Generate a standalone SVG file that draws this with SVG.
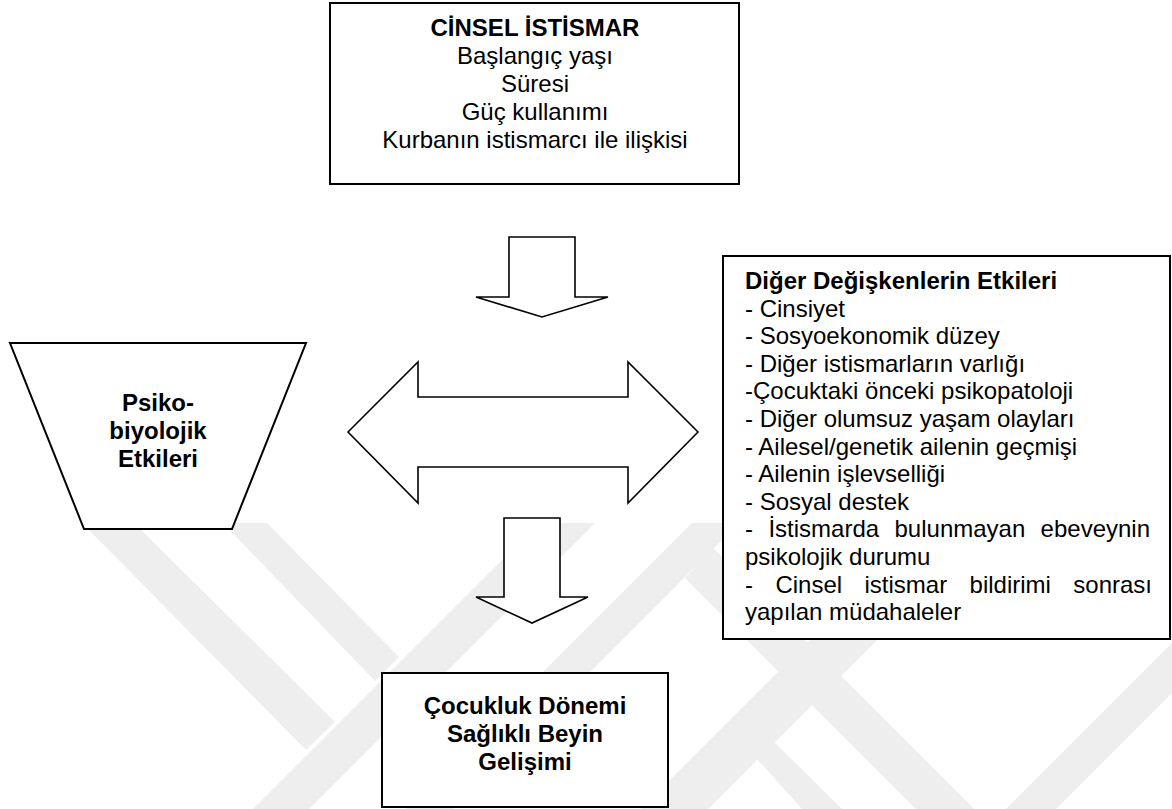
<svg xmlns="http://www.w3.org/2000/svg" width="1172" height="809" viewBox="0 0 1172 809">
<style>
.bg{fill:#ffffff}
.wm{fill:#eeeeee}
.box{fill:#ffffff;stroke:#000000;stroke-width:2}
.arr{fill:#ffffff;stroke:#000000;stroke-width:1.6;stroke-linejoin:miter}
text{font-family:"Liberation Sans",Arial,Helvetica,sans-serif;font-size:24px;fill:#000000}
.b{font-weight:bold}
.c{text-anchor:middle}
</style>
<rect class="bg" x="0" y="0" width="1172" height="809"/>
<g id="watermark">
<polygon class="wm" points="82,523 134,523 335,722 306,750"/>
<polygon class="wm" points="223,523 267,523 399,657 375,681"/>
<polygon class="wm" points="539,523 595,523 309,809 253,809"/>
<polygon class="wm" points="692,523 739,523 453,809 406,809"/>
<polygon class="wm" points="883,567 950,567 708,809 641,809"/>
<polygon class="wm" points="685,578 713,548 974,809 916,809"/>
<polygon class="wm" points="742,742 760,728 842,809 802,809"/>
<polygon class="wm" points="1172,643 1172,693 1056,809 1006,809"/>
</g>
<g id="node-cinsel-istismar">
<rect class="box" x="330" y="3" width="409" height="181"/>
<text class="b c" x="535" y="36">CİNSEL İSTİSMAR</text>
<text class="c" x="535" y="64">Başlangıç yaşı</text>
<text class="c" x="535" y="92">Süresi</text>
<text class="c" x="535" y="120">Güç kullanımı</text>
<text class="c" x="535" y="148">Kurbanın istismarcı ile ilişkisi</text>
</g>
<g id="node-psikobiyolojik">
<polygon class="box" points="10,343 306,343 232,529 84,529"/>
<text class="b c" x="158" y="411">Psiko-</text>
<text class="b c" x="158" y="439">biyolojik</text>
<text class="b c" x="158" y="467">Etkileri</text>
</g>
<g id="node-diger-degiskenler">
<rect class="box" x="723" y="256" width="447" height="383"/>
<text class="b" x="745" y="289">Diğer Değişkenlerin Etkileri</text>
<text x="745" y="316.6">- Cinsiyet</text>
<text x="745" y="344.2">- Sosyoekonomik düzey</text>
<text x="745" y="371.8">- Diğer istismarların varlığı</text>
<text x="745" y="399.4">-Çocuktaki önceki psikopatoloji</text>
<text x="745" y="427">- Diğer olumsuz yaşam olayları</text>
<text x="745" y="454.6">- Ailesel/genetik ailenin geçmişi</text>
<text x="745" y="482.2">- Ailenin işlevselliği</text>
<text x="745" y="509.8">- Sosyal destek</text>
<text y="537.4"><tspan x="745">-</tspan><tspan x="768.4">İstismarda</tspan><tspan x="894.5">bulunmayan</tspan><tspan x="1040.6">ebeveynin</tspan></text>
<text x="745" y="565">psikolojik durumu</text>
<text y="592.6"><tspan x="745">-</tspan><tspan x="775.4">Cinsel</tspan><tspan x="864.5">istismar</tspan><tspan x="969.6">bildirimi</tspan><tspan x="1073.3">sonrası</tspan></text>
<text x="745" y="620.2">yapılan müdahaleler</text>
</g>
<g id="node-saglikli-beyin">
<rect class="box" x="382" y="673" width="286" height="134"/>
<text class="b c" x="525" y="714">Çocukluk Dönemi</text>
<text class="b c" x="525" y="742">Sağlıklı Beyin</text>
<text class="b c" x="525" y="770">Gelişimi</text>
</g>
<g id="connectors">
<polygon id="arrow-top" class="arr" points="509,237 575,237 575,297 608,297 542,317 476,297 509,297"/>
<polygon id="arrow-double" class="arr" points="348,432 418,362 418,397 628,397 628,362 698,432 628,503 628,467 418,467 418,503"/>
<polygon id="arrow-bottom" class="arr" points="504,518 560,518 560,597 588,597 532,623 476,597 504,597"/>
</g>
</svg>
